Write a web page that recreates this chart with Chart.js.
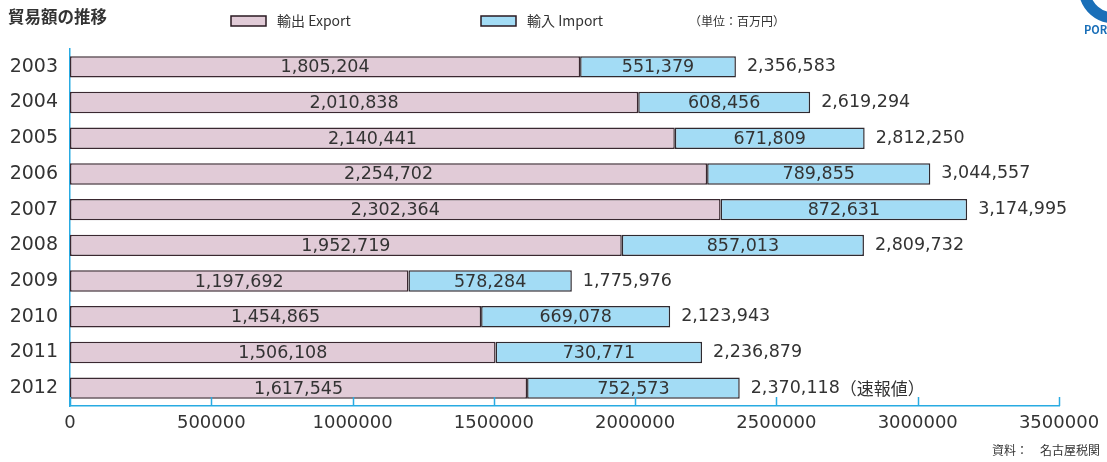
<!DOCTYPE html>
<html>
<head>
<meta charset="utf-8">
<script src="https://cdn.jsdelivr.net/npm/chart.js@4/dist/chart.umd.min.js"></script>
<style>
  html, body { margin: 0; padding: 0; background: #fff; }
  #wrap { width: 1107px; height: 462px; position: relative; }
</style>
</head>
<body>
<div id="wrap"><canvas id="myChart" width="1107" height="462"></canvas></div>
<script>
// 데이터
const years = ["2003", "2004", "2005", "2006", "2007", "2008", "2009", "2010", "2011", "2012"];
const exports = [1805204, 2010838, 2140441, 2254702, 2302364, 1952719, 1197692, 1454865, 1506108, 1617545];
const imports = [551379, 608456, 671809, 789855, 872631, 857013, 578284, 669078, 730771, 752573];
const totals = [2356583, 2619294, 2812250, 3044557, 3174995, 2809732, 1775976, 2123943, 2236879, 2370118];
const totalNotes = ["", "", "", "", "", "", "", "", "", "（速報値）"];
const xTicks = [0, 500000, 1000000, 1500000, 2000000, 2500000, 3000000, 3500000];

const FONT = '"Noto Sans CJK JP", "Noto Sans", sans-serif';
const NUM_FONT = '"DejaVu Sans", "Noto Sans CJK JP", sans-serif';
const TEXT = '#333';
const AXIS_BLUE = '#29abe2';

function fmt(v){
    return v.toLocaleString('en-US');
}

// 라벨, 범례, 제목 그리기
const decorPlugin = {
    id: 'decor',
    afterDatasetsDraw(chart){
        const ctx = chart.ctx;
        const xs = chart.scales.x;
        const area = chart.chartArea;
        ctx.save();

        // 막대 안 값
        ctx.font = '17.5px ' + NUM_FONT;
        ctx.fillStyle = TEXT;
        ctx.textBaseline = 'middle';
        ctx.textAlign = 'center';
        chart.data.datasets.forEach((ds, i) => {
            const meta = chart.getDatasetMeta(i);
            meta.data.forEach((bar, j) => {
                const left = Math.min(bar.x, bar.base);
                const right = Math.max(bar.x, bar.base);
                ctx.fillText(fmt(ds.data[j]), (left + right) / 2, bar.y + 1);
            });
        });

        // 합계
        ctx.textAlign = 'left';
        const lastMeta = chart.getDatasetMeta(1);
        lastMeta.data.forEach((bar, j) => {
            const x0 = xs.getPixelForValue(totals[j]) + 11;
            const txt = fmt(totals[j]);
            ctx.font = '17.5px ' + NUM_FONT;
            ctx.fillText(txt, x0, bar.y);
            if (totalNotes[j]) {
                const w = ctx.measureText(txt).width;
                ctx.font = '17px ' + FONT;
                ctx.fillText(totalNotes[j], x0 + w, bar.y);
            }
        });

        // x축 눈금 (위쪽으로)
        ctx.strokeStyle = AXIS_BLUE;
        ctx.lineWidth = 1.5;
        xTicks.forEach((t) => {
            const px = Math.round(xs.getPixelForValue(t)) + 0.5;
            ctx.beginPath();
            ctx.moveTo(px, area.bottom);
            ctx.lineTo(px, area.bottom - 9);
            ctx.stroke();
        });

        // 제목
        ctx.fillStyle = TEXT;
        ctx.font = 'bold 16.5px ' + FONT;
        ctx.textBaseline = 'middle';
        ctx.fillText('貿易額の推移', 8, 17);

        // 범례
        ctx.font = '14px ' + FONT;
        const legendX = [231, 481];
        chart.data.datasets.forEach((ds, i) => {
            ctx.fillStyle = ds.backgroundColor;
            ctx.fillRect(legendX[i], 16, 35, 10);
            ctx.strokeStyle = '#2a1a22';
            ctx.lineWidth = 1.5;
            ctx.strokeRect(legendX[i], 16, 35, 10);
            ctx.fillStyle = TEXT;
            ctx.fillText(ds.label, legendX[i] + 46, 21);
        });

        ctx.font = '12px ' + FONT;
        ctx.fillText('（単位：百万円）', 689, 21);

        // 출처
        ctx.textAlign = 'right';
        ctx.fillText('資料：　名古屋税関', 1100, 450);

        // 로고 일부
        ctx.strokeStyle = '#1a6fb8';
        ctx.lineWidth = 11;
        ctx.beginPath();
        ctx.arc(1114, -12, 30, 0.5 * Math.PI, 0.95 * Math.PI);
        ctx.stroke();
        ctx.fillStyle = '#1a6fb8';
        ctx.font = 'bold 11px ' + FONT;
        ctx.textAlign = 'left';
        ctx.fillText('PORT', 1084, 30);

        ctx.restore();
    }
};

const chartArea = document.getElementById('myChart').getContext('2d');
const myChart = new Chart(chartArea, {
    type: 'bar',
    data: {
        labels: years,
        datasets: [{
            label: '輸出 Export',
            data: exports,
            backgroundColor: '#e1cbd7',
            borderColor: '#3a2830',
            borderWidth: 1.5,
            borderSkipped: false,
            categoryPercentage: 1,
            barPercentage: 0.6
        }, {
            label: '輸入 Import',
            data: imports,
            backgroundColor: '#a3dcf5',
            borderColor: '#2f2a30',
            borderWidth: 1.5,
            borderSkipped: false,
            categoryPercentage: 1,
            barPercentage: 0.6
        }]
    },
    options: {
        responsive: false,
        maintainAspectRatio: false,
        animation: false,
        indexAxis: 'y',
        layout: {
            padding: { top: 49, right: 48, left: 0, bottom: 0 }
        },
        plugins: {
            legend: { display: false },
            tooltip: { enabled: false }
        },
        scales: {
            x: {
                stacked: true,
                min: 0,
                max: 3500000,
                afterBuildTicks(scale){
                    scale.ticks = xTicks.map(v => ({ value: v }));
                },
                afterFit(scale){
                    scale.height = 56;
                },
                grid: { display: false, drawTicks: false },
                border: { color: AXIS_BLUE, width: 1.5 },
                ticks: {
                    color: TEXT,
                    padding: 7,
                    font: { family: NUM_FONT, size: 18 },
                    maxRotation: 0,
                    autoSkip: false,
                    callback: (v) => String(v)
                }
            },
            y: {
                stacked: true,
                afterFit(scale){
                    scale.width = 70;
                },
                grid: { display: false, drawTicks: false },
                border: { color: AXIS_BLUE, width: 1.5 },
                ticks: {
                    color: TEXT,
                    padding: 12,
                    font: { family: NUM_FONT, size: 19 }
                }
            }
        }
    },
    plugins: [decorPlugin]
});
</script>
</body>
</html>
